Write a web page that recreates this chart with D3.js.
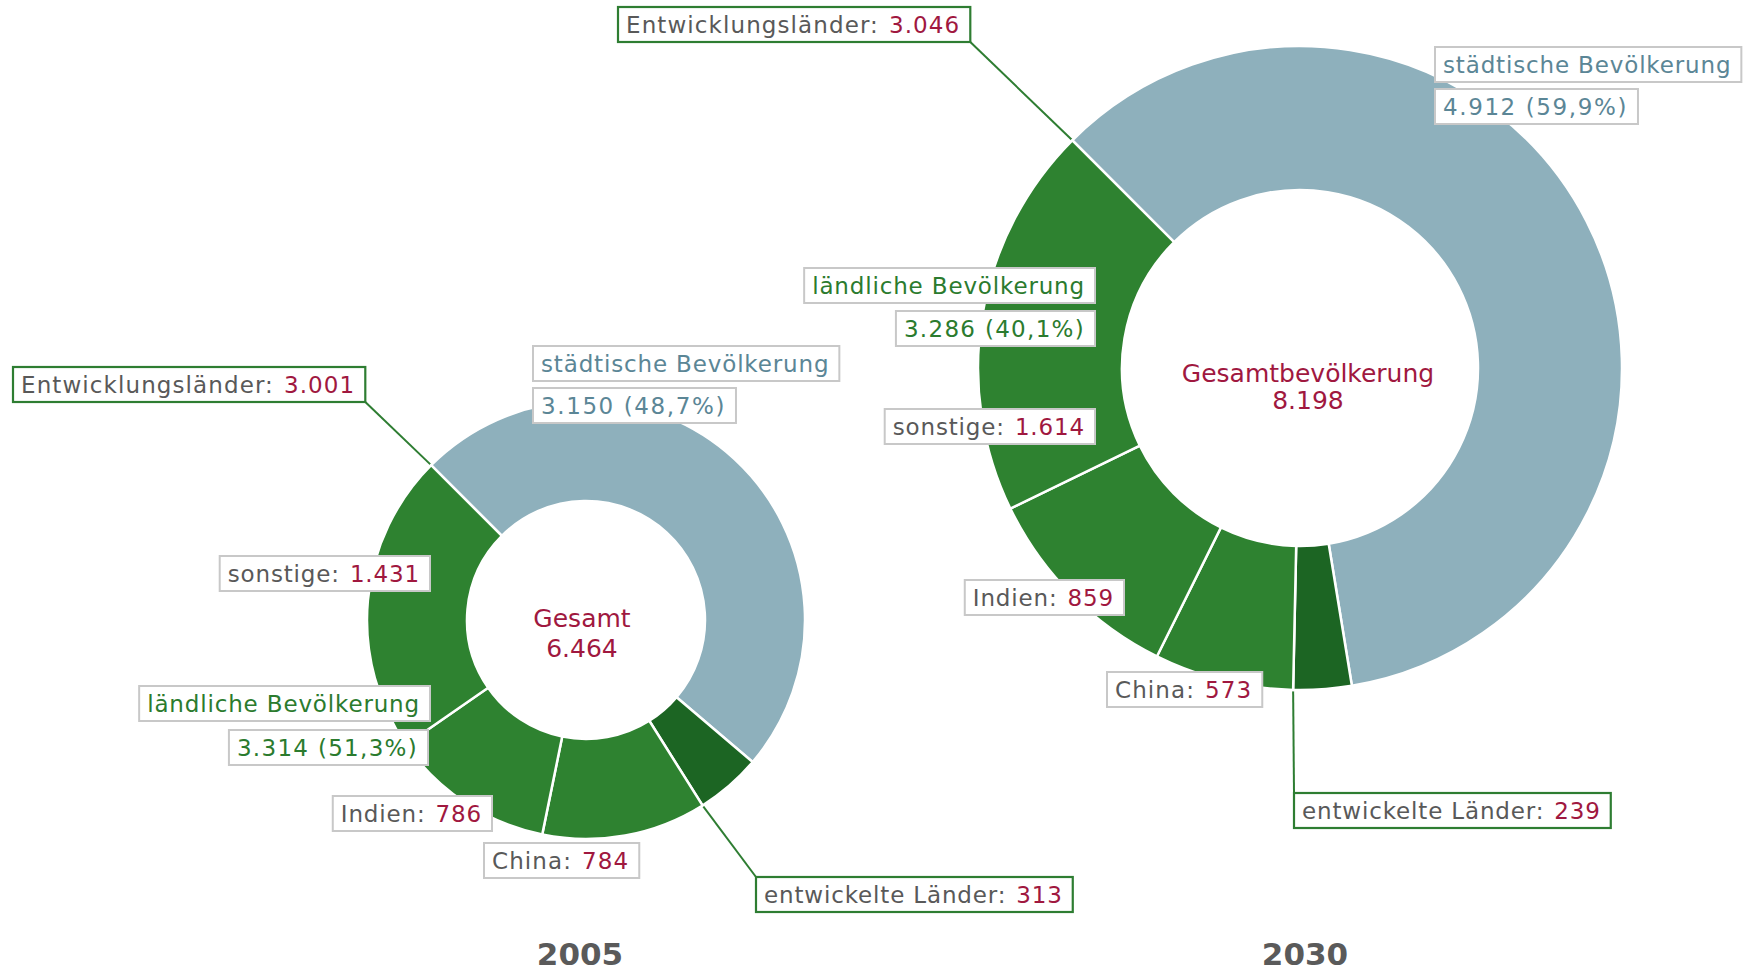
<!DOCTYPE html>
<html>
<head>
<meta charset="utf-8">
<script src="https://cdn.jsdelivr.net/npm/d3@7"></script>
<style>
  body { margin: 0; background: #fff; }
  text { font-family: "DejaVu Sans", sans-serif; }
</style>
</head>
<body>
<div id="chart"></div>
<script>
// Weltbevölkerung in Mio., 2005 und 2030
const years = ['2005', '2030'];
const urban = [3150, 4912];       // städtische Bevölkerung
const rural = [3314, 3286];       // ländliche Bevölkerung
const developed = [313, 239];     // entwickelte Länder
const china = [784, 573];
const india = [786, 859];
const other = [1431, 1614];       // sonstige
const developing = [3001, 3046];  // Entwicklungsländer
const centerTitles = ['Gesamt', 'Gesamtbevölkerung'];

const width = 1749, height = 974;
const colors = {'urban':'#8eb0bc', 'developed':'#1c6523', 'china':'#2e8230', 'india':'#2e8230', 'other':'#2e8230'};
const grey = '#595959', red = '#a0183f', blueText = '#5b8696', greenText = '#2b7b2e', green = '#2e7d32';

const de = d3.formatLocale({decimal: ',', thousands: '.', grouping: [3], currency: ['', ' €']});
const fmtNum = de.format(',d');
const fmtPct = de.format('.1f');

// layout of the two donuts (not data)
const layout = [
  {cx:586, cy:620, outer:219, inner:119, titleSize:25, titleY:[627, 657], titleX:582, yearX:580,
   labels:{
     dev:   {x:13,   y:367, anchor:'start'},
     urb1:  {x:533,  y:346, anchor:'start'},
     urb2:  {x:533,  y:388, anchor:'start'},
     other: {x:430,  y:556, anchor:'end'},
     rur1:  {x:430,  y:686, anchor:'end'},
     rur2:  {x:428,  y:730, anchor:'end'},
     india: {x:492,  y:796, anchor:'end'},
     china: {x:484,  y:843, anchor:'start'},
     devd:  {x:756,  y:877, anchor:'start'}
   }},
  {cx:1300, cy:368, outer:322, inner:178, titleSize:25, titleY:[382, 409], titleX:1308, yearX:1305,
   labels:{
     dev:   {x:618,  y:7,   anchor:'start'},
     urb1:  {x:1435, y:47,  anchor:'start'},
     urb2:  {x:1435, y:89,  anchor:'start'},
     rur1:  {x:1095, y:268, anchor:'end'},
     rur2:  {x:1095, y:311, anchor:'end'},
     other: {x:1095, y:409, anchor:'end'},
     india: {x:1124, y:580, anchor:'end'},
     china: {x:1107, y:672, anchor:'start'},
     devd:  {x:1294, y:793, anchor:'start'}
   }}
];

const svg = d3.select('#chart').append('svg')
  .attr('width', width).attr('height', height);

const pie = d3.pie()
  .sort(null)
  .value(d => d.value)
  .startAngle(-Math.PI / 4)
  .endAngle(Math.PI * 2 - Math.PI / 4);

function ringPoint(L, a) {
  return [L.cx + L.outer * Math.sin(a), L.cy - L.outer * Math.cos(a)];
}

function drawLabel(g, pos, parts, borderColor, spacing) {
  const boxH = 35, padL = 8, padR = 10;
  const lab = g.append('g');
  const rect = lab.append('rect')
    .attr('fill', 'white')
    .attr('stroke', borderColor)
    .attr('stroke-width', borderColor === green ? 2.2 : 2);
  const t = lab.append('text')
    .attr('x', 0)
    .attr('font-size', 23)
    .style('letter-spacing', (spacing || 0.85) + 'px')
    .attr('y', pos.y + 25.5);
  parts.forEach((p, i) => {
    t.append('tspan').attr('fill', p.color).attr('dx', i > 0 ? 10 : 0).text(p.text);
  });
  const bb = t.node().getBBox();
  const boxW = bb.width + padL + padR;
  const left = pos.anchor === 'start' ? pos.x : pos.x - boxW;
  t.attr('x', left + padL);
  rect.attr('x', left).attr('y', pos.y).attr('width', boxW).attr('height', boxH);
  return {left: left, top: pos.y, right: left + boxW, bottom: pos.y + boxH};
}

years.forEach((year, i) => {
  const L = layout[i];
  const total = urban[i] + rural[i];
  const slices = [
    {key:'urban', value: urban[i]},
    {key:'developed', value: developed[i]},
    {key:'china', value: china[i]},
    {key:'india', value: india[i]},
    {key:'other', value: other[i]}
  ];
  const arcs = pie(slices);
  const arc = d3.arc().innerRadius(L.inner).outerRadius(L.outer);

  const g = svg.append('g');
  g.append('g')
    .attr('transform', `translate(${L.cx},${L.cy})`)
    .selectAll('path')
    .data(arcs)
    .enter().append('path')
      .attr('d', arc)
      .attr('fill', d => colors[d.data.key])
      .attr('stroke', 'white')
      .attr('stroke-width', 2.5);

  // center text
  g.append('text')
    .attr('x', L.titleX).attr('y', L.titleY[0])
    .attr('text-anchor', 'middle').attr('font-size', L.titleSize)
    .attr('fill', red).text(centerTitles[i]);
  g.append('text')
    .attr('x', L.titleX).attr('y', L.titleY[1])
    .attr('text-anchor', 'middle').attr('font-size', L.titleSize)
    .attr('fill', red).text(fmtNum(total));

  // connectors
  const devStart = arcs[0].startAngle;          // boundary sonstige / städtisch
  const devdEnd = arcs[1].endAngle;             // boundary entwickelte / China
  const box1 = drawLabel(g, L.labels.dev, [{text:'Entwicklungsländer:', color:grey}, {text:fmtNum(developing[i]), color:red}], green, 1.1);
  const p1 = ringPoint(L, devStart);
  g.insert('line', ':first-child')
    .attr('x1', box1.right).attr('y1', box1.bottom)
    .attr('x2', p1[0]).attr('y2', p1[1])
    .attr('stroke', green).attr('stroke-width', 2);

  const box2 = drawLabel(g, L.labels.devd, [{text:'entwickelte Länder:', color:grey}, {text:fmtNum(developed[i]), color:red}], green);
  const p2 = ringPoint(L, devdEnd);
  g.insert('line', ':first-child')
    .attr('x1', box2.left).attr('y1', box2.top)
    .attr('x2', p2[0]).attr('y2', p2[1])
    .attr('stroke', green).attr('stroke-width', 2);

  drawLabel(g, L.labels.urb1, [{text:'städtische Bevölkerung', color:blueText}], '#c8c8c8');
  drawLabel(g, L.labels.urb2, [{text:`${fmtNum(urban[i])} (${fmtPct(urban[i] / total * 100)}%)`, color:blueText}], '#c8c8c8', 1.6);
  drawLabel(g, L.labels.rur1, [{text:'ländliche Bevölkerung', color:greenText}], '#c8c8c8');
  drawLabel(g, L.labels.rur2, [{text:`${fmtNum(rural[i])} (${fmtPct(rural[i] / total * 100)}%)`, color:greenText}], '#c8c8c8', 1.3);
  drawLabel(g, L.labels.other, [{text:'sonstige:', color:grey}, {text:fmtNum(other[i]), color:red}], '#c8c8c8');
  drawLabel(g, L.labels.india, [{text:'Indien:', color:grey}, {text:fmtNum(india[i]), color:red}], '#c8c8c8');
  drawLabel(g, L.labels.china, [{text:'China:', color:grey}, {text:fmtNum(china[i]), color:red}], '#c8c8c8', 1.1);

  // year
  svg.append('text')
    .attr('x', L.yearX).attr('y', 965)
    .attr('text-anchor', 'middle')
    .attr('font-size', 31).attr('font-weight', 'bold')
    .attr('fill', '#5a5a5a')
    .text(year);
});
</script>
</body>
</html>
